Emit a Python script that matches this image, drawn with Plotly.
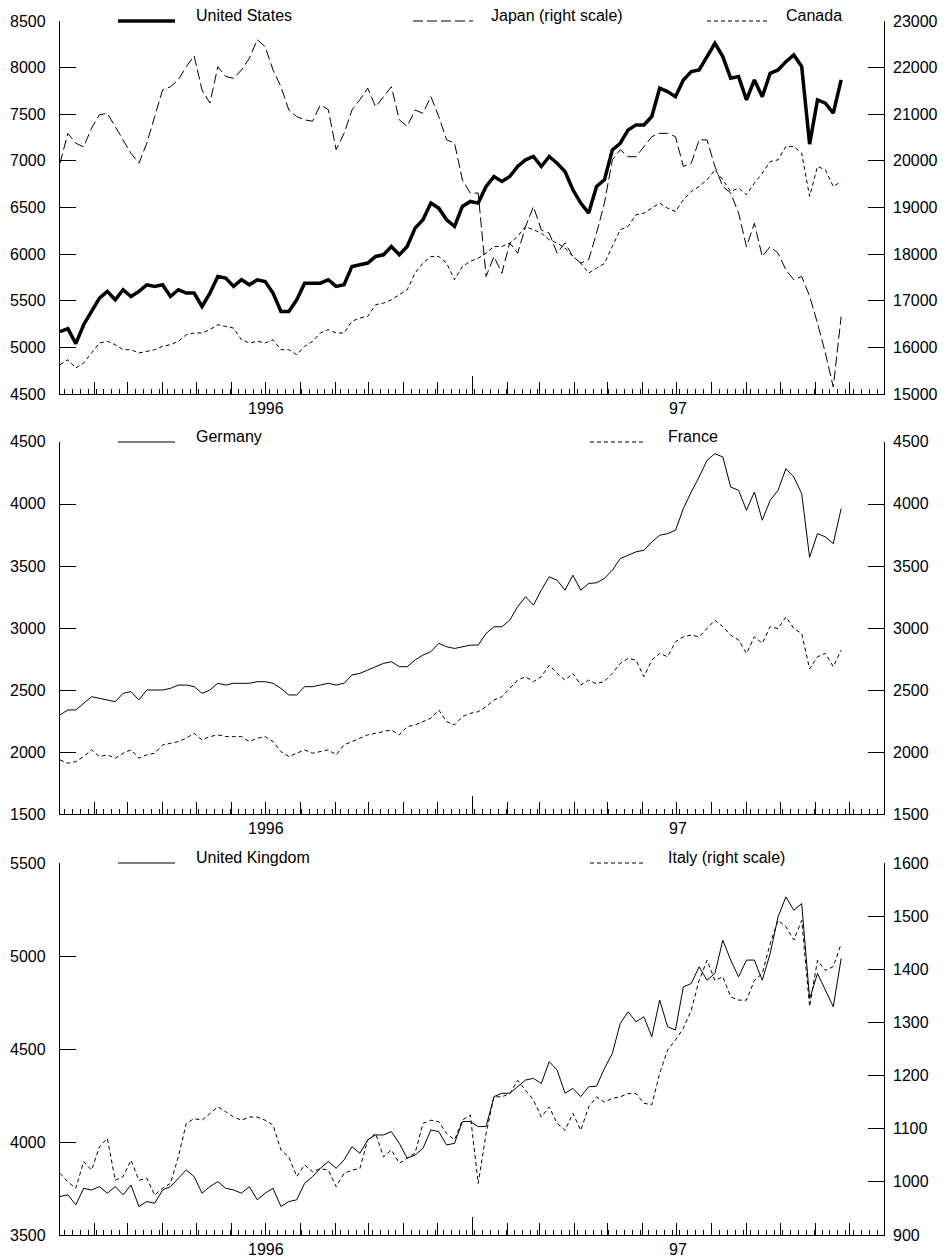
import plotly.graph_objects as go
import pandas as pd

# ---------------- data (weekly readings, Jan 1996 - Nov 1997) ----------------
weeks = pd.date_range("1996-01-01", periods=100, freq="7D")

united_states = [5170,5200,5040,5243,5386,5529,5600,5510,5618,5546,
 5600,5671,5654,5671,5546,5618,5582,5582,5439,5582,
 5760,5743,5654,5725,5671,5725,5707,5582,5386,5386,
 5510,5689,5689,5689,5725,5654,5672,5868,5886,5904,
 5975,5993,6082,5993,6082,6279,6368,6547,6493,6368,
 6297,6511,6565,6547,6725,6832,6779,6832,6940,7011,
 7047,6940,7047,6975,6886,6690,6547,6440,6725,6797,
 7118,7189,7332,7386,7386,7475,7779,7743,7689,7868,
 7957,7975,8118,8261,8118,7886,7904,7654,7868,7689,
 7939,7975,8064,8136,8011,7180,7654,7618,7511,7868]

japan = [19950,20590,20380,20300,20700,20990,21020,20740,20450,20160,
 19950,20380,20950,21520,21590,21740,22020,22250,21520,21240,
 22020,21810,21770,21950,22200,22600,22450,21950,21590,21090,
 20950,20880,20850,21200,21100,20240,20590,21090,21310,21560,
 21160,21380,21590,20880,20740,21090,21020,21380,20950,20450,
 20380,19590,19310,19310,17520,17950,17590,18240,18020,18590,
 19020,18520,18450,18020,18240,17950,17810,17880,18450,19100,
 20020,20240,20090,20090,20310,20520,20590,20590,20520,19880,
 19950,20450,20450,19880,19450,19310,18880,18160,18660,17950,
 18160,18020,17660,17450,17520,17100,16520,15880,15150,16660]

canada = [4815,4868,4779,4833,4940,5047,5065,5029,4975,4975,
 4940,4958,4975,5011,5029,5065,5136,5154,5154,5190,
 5243,5225,5207,5082,5047,5065,5047,5082,4975,4975,
 4922,5011,5065,5154,5190,5154,5154,5279,5315,5332,
 5457,5475,5511,5565,5618,5797,5904,5975,5975,5904,
 5725,5868,5922,5957,6011,6082,6082,6118,6190,6297,
 6261,6225,6154,6118,6065,5975,5904,5797,5850,5900,
 6082,6261,6297,6422,6440,6493,6547,6493,6457,6582,
 6672,6725,6797,6904,6797,6672,6707,6636,6761,6868,
 6993,7011,7154,7154,7082,6620,6940,6904,6725,6779]

germany = [2299,2339,2339,2393,2446,2433,2420,2406,2473,2487,
 2420,2500,2500,2500,2513,2540,2540,2527,2473,2500,
 2554,2540,2554,2554,2554,2567,2567,2554,2513,2460,
 2460,2527,2527,2540,2554,2540,2554,2621,2634,2661,
 2688,2715,2728,2688,2688,2742,2782,2809,2876,2849,
 2835,2849,2862,2862,2956,3010,3010,3063,3171,3252,
 3184,3305,3413,3386,3305,3426,3305,3359,3365,3400,
 3466,3560,3587,3614,3627,3694,3748,3761,3788,3963,
 4097,4218,4352,4406,4379,4137,4110,3949,4097,3869,
 4030,4110,4285,4218,4083,3570,3761,3735,3681,3963]

france = [1936,1909,1923,1963,2017,1963,1977,1950,1990,2017,
 1950,1977,1990,2057,2070,2084,2111,2151,2097,2124,
 2138,2124,2124,2124,2084,2111,2124,2084,2003,1963,
 1990,2017,1990,2003,2017,1977,2057,2084,2111,2138,
 2151,2164,2178,2138,2205,2218,2245,2272,2339,2245,
 2218,2285,2312,2325,2366,2419,2446,2513,2580,2607,
 2567,2607,2701,2634,2580,2634,2540,2580,2550,2570,
 2634,2714,2755,2741,2607,2741,2795,2768,2889,2929,
 2943,2929,2996,3063,3010,2943,2903,2795,2929,2876,
 3010,2996,3090,2996,2956,2670,2768,2795,2688,2822]

united_kingdom = [3707,3716,3662,3751,3742,3760,3725,3760,3716,3769,
 3653,3680,3671,3742,3760,3805,3850,3814,3725,3760,
 3787,3751,3742,3725,3760,3689,3725,3751,3653,3680,
 3689,3778,3814,3859,3895,3859,3904,3975,3939,4011,
 4038,4038,4056,3993,3913,3930,3966,4065,4056,3984,
 3993,4110,4110,4083,4083,4244,4262,4262,4297,4333,
 4342,4315,4432,4387,4262,4288,4244,4297,4300,4395,
 4476,4637,4700,4646,4673,4566,4763,4620,4602,4834,
 4852,4942,4870,4906,5085,4978,4888,4978,4978,4870,
 5013,5210,5318,5246,5282,4770,4906,4817,4727,4987]

italy = [1016,1000,988,1038,1022,1066,1082,1003,1010,1041,
 1003,1007,975,988,997,1047,1110,1119,1116,1129,
 1141,1132,1122,1116,1122,1122,1116,1107,1060,1047,
 1010,1032,1019,1025,1022,991,1016,1022,1025,1079,
 1091,1047,1060,1035,1044,1054,1110,1116,1113,1091,
 1079,1116,1126,997,1091,1160,1160,1166,1191,1173,
 1154,1122,1141,1110,1097,1129,1097,1141,1160,1150,
 1157,1160,1166,1166,1148,1145,1204,1248,1267,1289,
 1323,1379,1417,1379,1386,1348,1342,1342,1379,1392,
 1448,1492,1480,1455,1492,1330,1417,1398,1405,1448]

year_labels = ["1996", "97"]
year_centres = ["1996-07-02", "1997-07-02"]

# axis scales: (axis name, min, max, step)
scales = {
    "y":  (4500, 8500, 500),
    "y2": (15000, 23000, 1000),
    "y3": (1500, 4500, 500),
    "y4": (1500, 4500, 500),
    "y5": (3500, 5500, 500),
    "y6": (900, 1600, 100),
}

# ---------------- geometry ----------------
W, H = 948, 1260
ML, MR, MT, MB = 60, 64, 21, 25
PW = W - ML - MR
PH = H - MT - MB

def px_x(px):
    return (px - ML) / PW

def px_y(py):
    return (H - MB - py) / PH

panels = [(21, 394), (442, 814), (863, 1235)]
doms = [[px_y(b), px_y(t)] for t, b in panels]

FONT = "Liberation Sans"
FS = 16
BLACK = "black"
LONGDASH = "10px,4px"
SHORTDASH = "4px,3px"

fig = go.Figure()

def add(y, xa, ya, width, dash):
    fig.add_trace(go.Scatter(x=weeks, y=y, xaxis=xa, yaxis=ya, mode="lines",
                             line=dict(color=BLACK, width=width, dash=dash),
                             showlegend=False, hoverinfo="skip"))

add(japan, "x", "y2", 1, LONGDASH)
add(canada, "x", "y", 1, SHORTDASH)
add(united_states, "x", "y", 3.5, "solid")
add(france, "x2", "y3", 1, SHORTDASH)
add(germany, "x2", "y3", 1, "solid")
fig.add_trace(go.Scatter(x=[None], y=[None], xaxis="x2", yaxis="y4",
                         showlegend=False, hoverinfo="skip"))
add(italy, "x3", "y6", 1, SHORTDASH)
add(united_kingdom, "x3", "y5", 1, "solid")

xcommon = dict(type="date", range=["1996-01-01", "1998-01-01"], showgrid=False,
               zeroline=False, showline=True, linecolor=BLACK, linewidth=1,
               ticks="inside", ticklen=12, tickwidth=1, tickcolor=BLACK,
               dtick="M1", tick0="1996-01-01", showticklabels=False,
               automargin=False,
               minor=dict(ticks="inside", ticklen=5, tickwidth=1, tickcolor=BLACK,
                          dtick=7 * 86400000, tick0="1996-01-05", showgrid=False))

def ycommon(name, side):
    lo, hi, dt = scales[name]
    return dict(range=[lo, hi], dtick=dt, tick0=lo, showgrid=False, zeroline=False,
                showline=True, linecolor=BLACK, linewidth=1, ticks="inside",
                ticklen=16, tickwidth=1, tickcolor=BLACK, side=side,
                showticklabels=False, automargin=False)

layout = dict(
    width=W, height=H, margin=dict(l=ML, r=MR, t=MT, b=MB, autoexpand=False),
    paper_bgcolor="white", plot_bgcolor="white", showlegend=False,
    font=dict(family=FONT, size=FS, color=BLACK),
    xaxis=dict(xcommon, domain=[0, 1], anchor="y"),
    xaxis2=dict(xcommon, domain=[0, 1], anchor="y3"),
    xaxis3=dict(xcommon, domain=[0, 1], anchor="y5"),
    yaxis=dict(ycommon("y", "left"), domain=doms[0], anchor="x"),
    yaxis2=dict(ycommon("y2", "right"), overlaying="y", anchor="x"),
    yaxis3=dict(ycommon("y3", "left"), domain=doms[1], anchor="x2"),
    yaxis4=dict(ycommon("y4", "right"), overlaying="y3", anchor="x2"),
    yaxis5=dict(ycommon("y5", "left"), domain=doms[2], anchor="x3"),
    yaxis6=dict(ycommon("y6", "right"), overlaying="y5", anchor="x3"),
)
fig.update_layout(**layout)

shapes = []
annotations = []

def txt(text, x, y, xref, yref, xanchor):
    annotations.append(dict(text=text, xref=xref, yref=yref, x=x, y=y,
                            showarrow=False, xanchor=xanchor, yanchor="middle",
                            borderpad=0,
                            font=dict(family=FONT, size=FS, color=BLACK)))

# y tick labels (left right-aligned at x=47, right left-aligned at x=892)
for name, (lo, hi, dt) in scales.items():
    left = name in ("y", "y3", "y5")
    v = lo
    while v <= hi:
        if left:
            txt(str(v), px_x(47), v, "paper", name, "right")
        else:
            txt(str(v), px_x(892), v, "paper", name, "left")
        v += dt

# tall tick at the year boundary and year labels
for (top, bot) in panels:
    shapes.append(dict(type="line", xref="x", yref="paper",
                       x0="1997-01-01", x1="1997-01-01",
                       y0=px_y(bot), y1=px_y(bot - 18),
                       line=dict(color=BLACK, width=1)))
    for lab, cx in zip(year_labels, year_centres):
        txt(lab, cx, px_y(bot + 14), "x", "paper", "center")

# legend keys
legend_items = [
    # (line x0, line x1, line y, dash, width, text, text x)
    (118, 175, 21, "solid", 3.5, "United States", 195),
    (413, 473, 21, LONGDASH, 1, "Japan (right scale)", 490),
    (707, 767, 21, SHORTDASH, 1, "Canada", 785),
    (118, 175, 442, "solid", 1, "Germany", 195),
    (590, 645, 442, SHORTDASH, 1, "France", 667),
    (118, 175, 863, "solid", 1, "United Kingdom", 195),
    (590, 645, 863, SHORTDASH, 1, "Italy (right scale)", 667),
]
for x0, x1, ly, dash, w, label, tx in legend_items:
    shapes.append(dict(type="line", xref="paper", yref="paper",
                       x0=px_x(x0), x1=px_x(x1), y0=px_y(ly), y1=px_y(ly),
                       line=dict(color=BLACK, width=w, dash=dash)))
    txt(label, px_x(tx), px_y(ly - 6), "paper", "paper", "left")

fig.update_layout(shapes=shapes, annotations=annotations)
fig.write_html("out.html",
               config={"displayModeBar": False},
               post_script="document.body.style.margin='0';"
                           "document.body.style.padding='0';")
